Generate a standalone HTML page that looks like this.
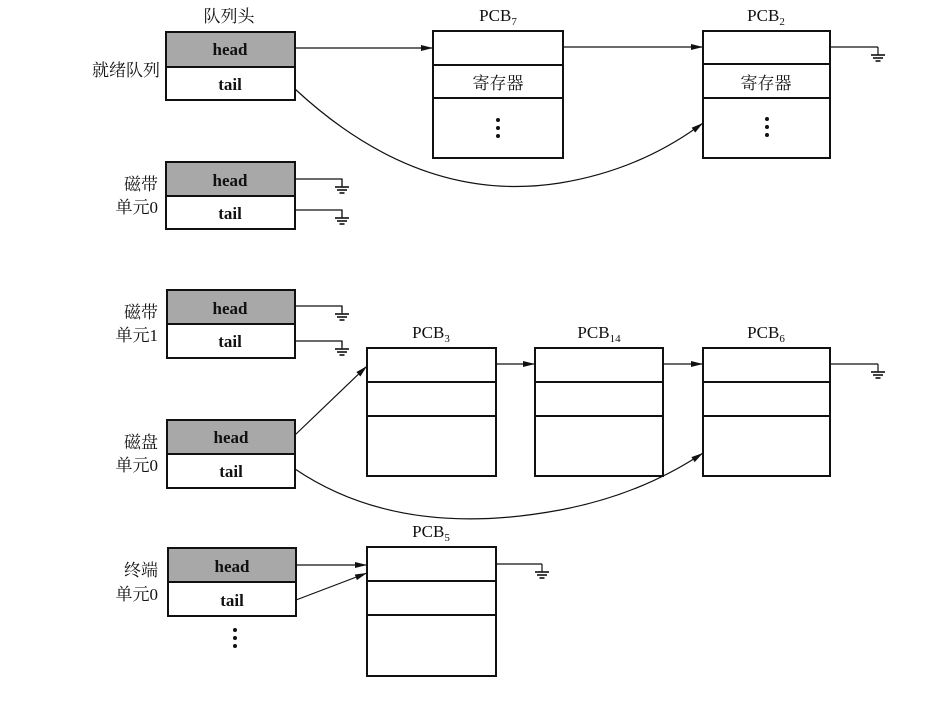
<!DOCTYPE html>
<html><head><meta charset="utf-8"><style>
body{margin:0;background:#fff}
text{font-family:"Liberation Serif","Noto Serif CJK SC",serif;fill:#111}
</style></head><body>
<svg width="945" height="700" viewBox="0 0 945 700" xmlns="http://www.w3.org/2000/svg">
<defs>
<marker id="a" markerWidth="12" markerHeight="8" refX="12" refY="4" orient="auto" markerUnits="userSpaceOnUse"><path d="M0,1 L12,4 L0,7 Z" fill="#111"/></marker>
<g id="gnd"><line x1="0" y1="0" x2="0" y2="8" stroke="#111" stroke-width="1.2"/><line x1="-7" y1="8" x2="7" y2="8" stroke="#111" stroke-width="1.6"/><line x1="-5" y1="11" x2="5" y2="11" stroke="#111" stroke-width="1.6"/><line x1="-2.5" y1="14" x2="2.5" y2="14" stroke="#111" stroke-width="1.6"/></g>
</defs>
<g stroke="#111" stroke-width="2" fill="none">
<!-- queue heads -->
<rect x="166" y="32" width="129" height="35" fill="#a8a8a8"/><rect x="166" y="67" width="129" height="33" fill="#fff"/>
<rect x="166" y="162" width="129" height="34" fill="#a8a8a8"/><rect x="166" y="196" width="129" height="33" fill="#fff"/>
<rect x="167" y="290" width="128" height="34" fill="#a8a8a8"/><rect x="167" y="324" width="128" height="34" fill="#fff"/>
<rect x="167" y="420" width="128" height="34" fill="#a8a8a8"/><rect x="167" y="454" width="128" height="34" fill="#fff"/>
<rect x="168" y="548" width="128" height="34" fill="#a8a8a8"/><rect x="168" y="582" width="128" height="34" fill="#fff"/>
<!-- PCBs -->
<rect x="433" y="31" width="130" height="127"/><line x1="433" y1="65" x2="563" y2="65"/><line x1="433" y1="98" x2="563" y2="98"/>
<rect x="703" y="31" width="127" height="127"/><line x1="703" y1="64" x2="830" y2="64"/><line x1="703" y1="98" x2="830" y2="98"/>
<rect x="367" y="348" width="129" height="128"/><line x1="367" y1="382" x2="496" y2="382"/><line x1="367" y1="416" x2="496" y2="416"/>
<rect x="535" y="348" width="128" height="128"/><line x1="535" y1="382" x2="663" y2="382"/><line x1="535" y1="416" x2="663" y2="416"/>
<rect x="703" y="348" width="127" height="128"/><line x1="703" y1="382" x2="830" y2="382"/><line x1="703" y1="416" x2="830" y2="416"/>
<rect x="367" y="547" width="129" height="129"/><line x1="367" y1="581" x2="496" y2="581"/><line x1="367" y1="615" x2="496" y2="615"/>
</g>
<g stroke="#111" stroke-width="1.2" fill="none">
<line x1="295" y1="48" x2="433" y2="48" marker-end="url(#a)"/>
<line x1="563" y1="47" x2="703" y2="47" marker-end="url(#a)"/>
<line x1="830" y1="47" x2="878" y2="47"/>
<path d="M295,89 Q420,205 560,183 Q640,170 703,123" marker-end="url(#a)"/>
<polyline points="295,179 342,179 342,186"/><polyline points="295,210 342,210 342,217"/>
<polyline points="295,306 342,306 342,312"/><polyline points="295,341 342,341 342,347"/>
<line x1="295" y1="435" x2="367" y2="366" marker-end="url(#a)"/>
<path d="M295,469 Q400,540 560,510 Q640,495 703,453" marker-end="url(#a)"/>
<line x1="496" y1="364" x2="535" y2="364" marker-end="url(#a)"/>
<line x1="663" y1="364" x2="703" y2="364" marker-end="url(#a)"/>
<line x1="830" y1="364" x2="878" y2="364"/>
<line x1="296" y1="565" x2="367" y2="565" marker-end="url(#a)"/>
<line x1="296" y1="600" x2="367" y2="573" marker-end="url(#a)"/>
<line x1="496" y1="564" x2="542" y2="564"/>
</g>
<use href="#gnd" x="878" y="47"/><use href="#gnd" x="342" y="179"/><use href="#gnd" x="342" y="210"/>
<use href="#gnd" x="342" y="306"/><use href="#gnd" x="342" y="341"/><use href="#gnd" x="878" y="364"/><use href="#gnd" x="542" y="564"/>
<g font-size="17" font-weight="bold" text-anchor="middle">
<text x="230" y="55">head</text><text x="230" y="90">tail</text>
<text x="230" y="186">head</text><text x="230" y="219">tail</text>
<text x="230" y="314">head</text><text x="230" y="347">tail</text>
<text x="231" y="443">head</text><text x="231" y="477">tail</text>
<text x="232" y="572">head</text><text x="232" y="606">tail</text>
</g>
<g font-size="17" text-anchor="middle">
<text x="229" y="22">队列头</text>
<text x="498" y="89">寄存器</text><text x="766" y="89">寄存器</text>
<text x="498" y="21">PCB<tspan font-size="11" dy="4">7</tspan></text>
<text x="766" y="21">PCB<tspan font-size="11" dy="4">2</tspan></text>
<text x="431" y="338">PCB<tspan font-size="11" dy="4">3</tspan></text>
<text x="599" y="338">PCB<tspan font-size="11" dy="4">14</tspan></text>
<text x="766" y="338">PCB<tspan font-size="11" dy="4">6</tspan></text>
<text x="431" y="537">PCB<tspan font-size="11" dy="4">5</tspan></text>
</g>
<g font-size="17" text-anchor="end">
<text x="160" y="76">就绪队列</text>
<text x="158" y="190">磁带</text><text x="158" y="213">单元0</text>
<text x="158" y="318">磁带</text><text x="158" y="341">单元1</text>
<text x="158" y="448">磁盘</text><text x="158" y="471">单元0</text>
<text x="158" y="576">终端</text><text x="158" y="600">单元0</text>
</g>
<g fill="#111">
<circle cx="498" cy="120" r="2"/><circle cx="498" cy="128" r="2"/><circle cx="498" cy="136" r="2"/>
<circle cx="767" cy="119" r="2"/><circle cx="767" cy="127" r="2"/><circle cx="767" cy="135" r="2"/>
<circle cx="235" cy="630" r="2"/><circle cx="235" cy="638" r="2"/><circle cx="235" cy="646" r="2"/>
</g>
</svg>
</body></html>
